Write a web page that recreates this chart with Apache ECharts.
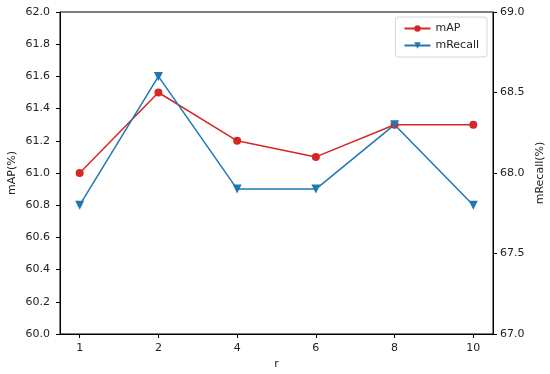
<!DOCTYPE html>
<html><head><meta charset="utf-8">
<script src="https://cdn.jsdelivr.net/npm/echarts@6/dist/echarts.min.js"></script>
<style>html,body{margin:0;padding:0;background:#fff}#c{width:550px;height:374px}</style>
</head><body><div id="c"></div>
<script>
var categories = ['1','2','4','6','8','10'];
var mAP = [61.0, 61.5, 61.2, 61.1, 61.3, 61.3];
var mRecall = [67.8, 68.6, 67.9, 67.9, 68.3, 67.8];
var idx = categories.map(function(_, i){ return i; });

var font = 'DejaVu Sans';
var axisCommon = {
  nameMoveOverlap: false,
  axisLine: {show: true, onZero: false, lineStyle: {color: '#000', width: 1}},
  axisTick: {show: true, inside: false, length: 4, lineStyle: {color: '#000'}},
  axisLabel: {color: '#222', fontFamily: font, fontSize: 11, margin: 9},
  splitLine: {show: false},
  nameTextStyle: {color: '#222', fontFamily: font, fontSize: 11}
};
var chart = echarts.init(document.getElementById('c'), null, {renderer: 'canvas'});
chart.setOption({
  animation: false,
  backgroundColor: '#fff',
  grid: {left: 60, right: 57, top: 12, bottom: 40, show: true, borderColor: '#000', borderWidth: 1,
         containLabel: false, outerBoundsMode: 'none'},
  legend: {
    top: 17, right: 63, orient: 'vertical', itemGap: 6, itemWidth: 26, itemHeight: 8,
    padding: [6, 8, 6, 8],
    borderColor: '#d5d5d5', borderWidth: 1, borderRadius: 3, backgroundColor: '#fff',
    textStyle: {color: '#222', fontFamily: font, fontSize: 11},
    data: ['mAP', 'mRecall']
  },
  xAxis: Object.assign({}, axisCommon, {
    type: 'value', min: -0.25, max: 5.25,
    name: 'r', nameLocation: 'middle', nameGap: 25,
    axisTick: Object.assign({}, axisCommon.axisTick, {customValues: idx}),
    axisLabel: Object.assign({}, axisCommon.axisLabel, {margin: 9, customValues: idx, formatter: function(v){ return categories[Math.round(v)]; }})
  }),
  yAxis: [
    Object.assign({}, axisCommon, {
      type: 'value', min: 60, max: 62, interval: 0.2, position: 'left',
      name: 'mAP(%)', nameLocation: 'middle', nameGap: 42,
      axisLabel: Object.assign({}, axisCommon.axisLabel, {margin: 10, formatter: function(v){ return v.toFixed(1); }})
    }),
    Object.assign({}, axisCommon, {
      type: 'value', min: 67, max: 69, interval: 0.5, position: 'right',
      name: 'mRecall(%)', nameLocation: 'middle', nameGap: 42, nameRotate: 90,
      axisLabel: Object.assign({}, axisCommon.axisLabel, {margin: 7, formatter: function(v){ return v.toFixed(1); }})
    })
  ],
  series: [
    {
      name: 'mAP', type: 'line', yAxisIndex: 0,
      data: idx.map(function(i){ return [i, mAP[i]]; }),
      symbol: 'circle', symbolSize: 8,
      lineStyle: {color: '#d62728', width: 1.5},
      itemStyle: {color: '#d62728'}
    },
    {
      name: 'mRecall', type: 'line', yAxisIndex: 1,
      data: idx.map(function(i){ return [i, mRecall[i]]; }),
      symbol: 'triangle', symbolRotate: 180, symbolSize: 9,
      lineStyle: {color: '#1f77b4', width: 1.5},
      itemStyle: {color: '#1f77b4'}
    }
  ]
});
</script></body></html>
